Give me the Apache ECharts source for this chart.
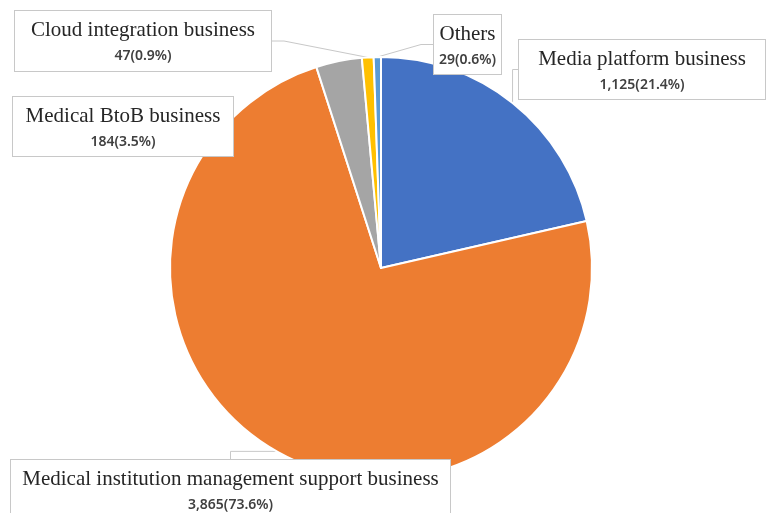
<!DOCTYPE html>
<html>
<head>
<meta charset="utf-8">
<script src="https://cdn.jsdelivr.net/npm/echarts@6/dist/echarts.min.js"></script>
<style>
  html, body { margin: 0; padding: 0; background: #fff; }
  #chart { width: 766px; height: 513px; }
</style>
</head>
<body>
<div id="chart"></div>
<script>
// Segment names and revenue values (clockwise from 12 o'clock)
var segments = [
  'Media platform business',
  'Medical institution management support business',
  'Medical BtoB business',
  'Cloud integration business',
  'Others'
];
var revenue = [1125, 3865, 184, 47, 29];
var colors = ['#4472C4', '#ED7D31', '#A5A5A5', '#FFC000', '#5B9BD5'];

// Callout boxes: left, top, width, height
var boxes = [
  { x: 518, y: 40, w: 248, h: 60 },
  { x: 10, y: 460, w: 441, h: 60 },
  { x: 12, y: 97, w: 222, h: 55 },
  { x: 14, y: 11, w: 258, h: 62 },
  { x: 433, y: 15, w: 69, h: 53 }
];
var TOP_PAD = 6;
var TITLE_LH = 27;
var VALUE_LH = 24;

var total = revenue.reduce(function (a, b) { return a + b; }, 0);

var chart = echarts.init(document.getElementById('chart'), null, { renderer: 'canvas' });

var seriesData = segments.map(function (name, i) {
  var b = boxes[i];
  var bottomPad = Math.max(2, b.h - 2 - TOP_PAD - TITLE_LH - VALUE_LH);
  return {
    name: name,
    value: revenue[i],
    itemStyle: { color: colors[i] },
    label: { width: b.w - 2, padding: [TOP_PAD, 0, bottomPad, 0] }
  };
});

chart.setOption({
  backgroundColor: '#ffffff',
  animation: false,
  series: [{
    type: 'pie',
    center: [381, 268],
    radius: 211,
    startAngle: 90,
    clockwise: true,
    avoidLabelOverlap: false,
    itemStyle: { borderColor: '#ffffff', borderWidth: 2 },
    data: seriesData,
    label: {
      show: true,
      position: 'outside',
      align: 'center',
      backgroundColor: '#ffffff',
      borderColor: '#c8c8c8',
      borderWidth: 1,
      formatter: function (p) {
        var pct = (p.value / total * 100).toFixed(1);
        return '{t|' + p.name + '}\n{v|' + p.value.toLocaleString('en-US') + '(' + pct + '%)}';
      },
      rich: {
        t: { fontFamily: 'Liberation Serif', fontSize: 21, color: '#262626', lineHeight: TITLE_LH, align: 'center' },
        v: { fontFamily: 'Noto Sans', fontSize: 14, fontWeight: 600, color: '#404040', lineHeight: VALUE_LH, align: 'center' }
      }
    },
    labelLine: {
      show: true,
      length: 12,
      length2: 12,
      lineStyle: { color: '#c8c8c8', width: 1 }
    },
    labelLayout: function (params) {
      var b = boxes[params.dataIndex];
      return {
        x: b.x + b.w / 2,
        y: b.y,
        align: 'center',
        verticalAlign: 'top'
      };
    }
  }]
});
</script>
</body>
</html>
